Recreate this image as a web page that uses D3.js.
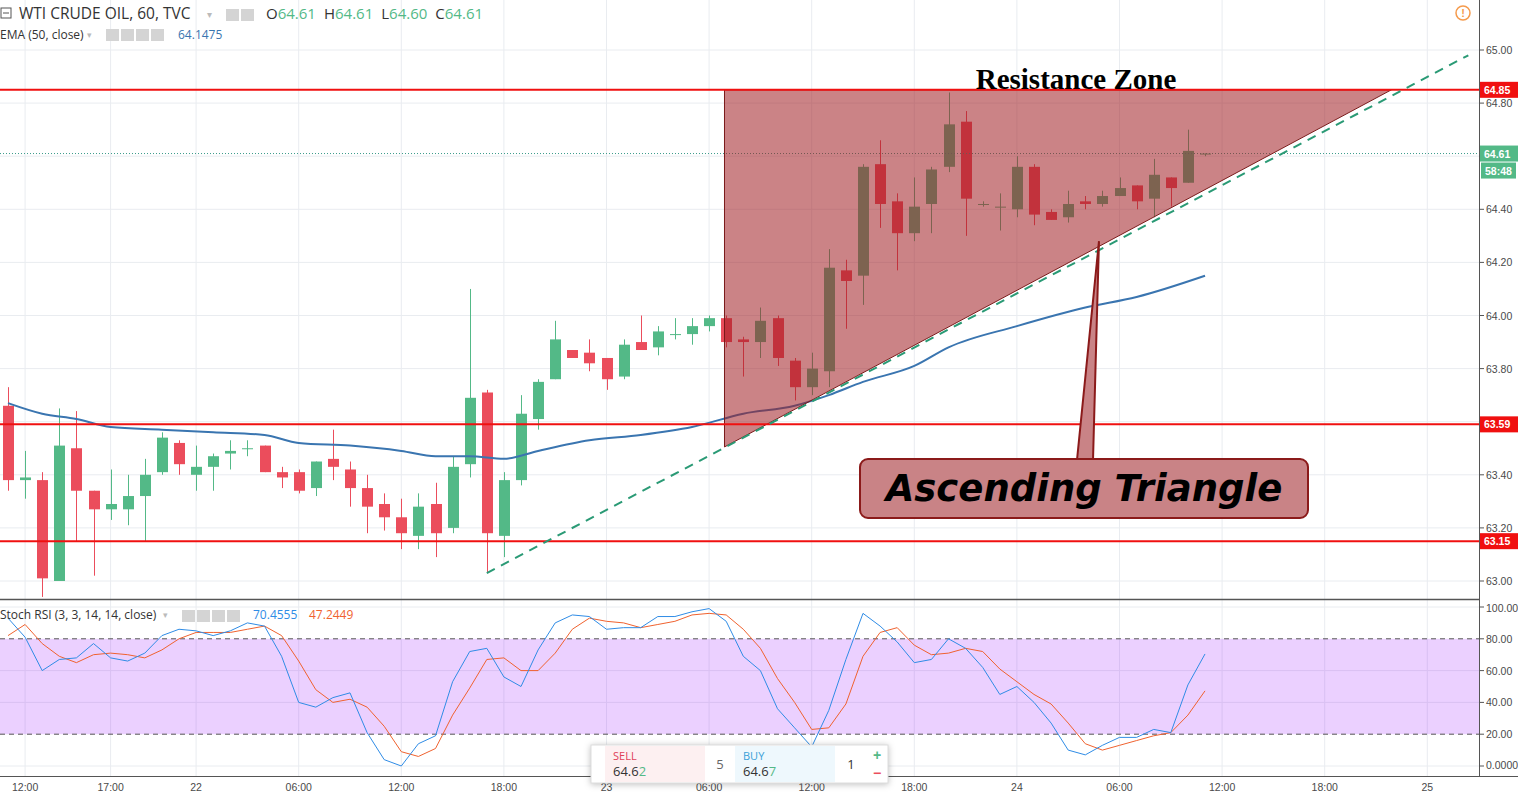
<!DOCTYPE html>
<html>
<head>
<meta charset="utf-8">
<script src="https://cdn.jsdelivr.net/npm/d3@7"></script>
<style>
  body { margin: 0; background: #fff; font-family: "Open Sans", "DejaVu Sans", sans-serif; }
  svg { display: block; }
  .grid line { stroke: #e9ecf0; stroke-width: 1; }
  .axis-label { font-size: 10.5px; fill: #4a4a4a; font-family: "Liberation Sans", sans-serif; }
</style>
</head>
<body>
<div class="chart"></div>
<script>
// Data: hourly candles (index, open, high, low, close)
const opens  = [63.66,63.38,63.38,63.00,63.50,63.34,63.27,63.27,63.32,63.41,63.52,63.40,63.43,63.48,63.50,63.51,63.41,63.41,63.35,63.46,63.42,63.35,63.29,63.24,63.17,63.29,63.20,63.44,63.71,63.17,63.38,63.61,63.76,63.87,63.86,63.84,63.77,63.90,63.88,63.93,63.93,63.96,63.99,63.91,63.90,63.99,63.83,63.73,63.79,64.17,64.15,64.57,64.43,64.31,64.42,64.56,64.73,64.42,64.41,64.40,64.56,64.39,64.37,64.43,64.42,64.45,64.49,64.44,64.52,64.50,64.61];
const highs  = [63.73,63.49,63.41,63.65,63.64,63.34,63.42,63.40,63.46,63.56,63.53,63.51,63.48,63.53,63.53,63.51,63.43,63.42,63.45,63.57,63.45,63.40,63.33,63.31,63.33,63.37,63.47,64.10,63.72,63.41,63.70,63.76,63.98,63.87,63.91,63.84,63.91,64.00,63.96,63.99,63.99,64.00,64.00,63.92,64.03,64.00,63.84,63.86,64.25,64.21,64.57,64.66,64.46,64.52,64.56,64.84,64.77,64.43,64.46,64.60,64.57,64.40,64.47,64.45,64.47,64.52,64.49,64.59,64.52,64.70,64.61];
const lows   = [63.34,63.31,62.94,63.00,63.15,63.02,63.23,63.21,63.15,63.40,63.40,63.34,63.34,63.42,63.47,63.41,63.35,63.33,63.32,63.38,63.28,63.18,63.19,63.12,63.12,63.09,63.18,63.39,63.03,63.09,63.36,63.57,63.76,63.84,63.79,63.72,63.76,63.87,63.85,63.91,63.89,63.94,63.88,63.77,63.84,63.81,63.68,63.70,63.73,63.95,64.04,64.33,64.17,64.28,64.31,64.54,64.30,64.41,64.32,64.37,64.34,64.36,64.35,64.40,64.41,64.45,64.40,64.37,64.41,64.50,64.60];
const closes = [63.38,63.39,63.01,63.51,63.34,63.27,63.29,63.32,63.40,63.54,63.44,63.43,63.47,63.49,63.50,63.41,63.39,63.34,63.45,63.43,63.35,63.28,63.24,63.18,63.28,63.18,63.43,63.69,63.18,63.38,63.63,63.75,63.91,63.84,63.82,63.76,63.89,63.87,63.94,63.93,63.96,63.99,63.90,63.90,63.98,63.84,63.73,63.80,64.18,64.13,64.56,64.42,64.31,64.41,64.55,64.72,64.44,64.42,64.41,64.56,64.38,64.36,64.42,64.42,64.45,64.48,64.43,64.53,64.48,64.62,64.61];

// EMA (50) samples at bar indices
const emaIdx = [0,2,4,6,9,12,15,17,20,23,25,27,29,31,34,37,40,43,46,48,50,53,55,59,63,66,70];
const emaVal = [63.67,63.63,63.61,63.58,63.57,63.56,63.55,63.52,63.51,63.49,63.47,63.47,63.46,63.49,63.53,63.55,63.58,63.63,63.66,63.70,63.75,63.81,63.88,63.96,64.03,64.07,64.15];

// Stoch RSI K and D per bar
const stochK = [93,81,60,67,68,77,68,66,71,82,86,85,82,85,90,88,69,40,37,43,46,21,4,0,14,19,53,72,74,56,50,73,90,95,94,86,87,87,94,94,97,99,91,69,60,36,24,12,35,67,96,88,78,65,67,80,74,62,45,50,40,27,10,7,13,18,18,23,21,51,70.46];
const stochD = [82,89,77,69,65,70,71,70,68,73,80,84,84,84,86,88,82,66,48,40,42,37,25,9,6,11,32,49,67,68,60,60,71,86,93,91,90,87,89,91,95,96,95,86,74,55,40,23,24,39,69,84,87,76,70,71,74,72,61,53,45,39,27,14,10,13,16,19,21,32,47.24];

// Levels and annotations
const levels = [64.85, 63.59, 63.15];
const priceTicks = [63.0,63.2,63.4,63.6,63.8,64.0,64.2,64.4,64.6,64.8,65.0,65.2];
const stochTicks = [100,80,60,40,20,0];
const timeIdx = [1,6,11,17,23,29,35,41,47,53,59,65,71,77,83];
const timeLabels = ['12:00','17:00','22','06:00','12:00','18:00','23','06:00','12:00','18:00','24','06:00','12:00','18:00','25'];
const triangle = [[41.9,64.85],[41.9,63.505],[80.9,64.85]];
const trendLine = [[28,63.03],[85.4,64.98]];

const W = 1518, H = 798, axisX = 1479;
const svg = d3.select('.chart').append('svg').attr('width', W).attr('height', H);

// Scales
const x = d3.scaleLinear().domain([0, 86]).range([8, 8 + 86 * 17.1]);
const y = d3.scaleLinear().domain([63, 65]).range([581, 50]);
const ys = d3.scaleLinear().domain([0, 100]).range([766, 607]);

const green = '#53b987', red = '#eb4d5c';

// Grid
const grid = svg.append('g').attr('class', 'grid');
grid.selectAll('.vg').data(timeIdx).enter().append('line')
  .attr('x1', d => x(d)).attr('x2', d => x(d)).attr('y1', 0).attr('y2', 776);
grid.selectAll('.hg').data(priceTicks).enter().append('line')
  .attr('x1', 0).attr('x2', axisX).attr('y1', d => y(d)).attr('y2', d => y(d));
grid.selectAll('.sg').data([100, 60, 40, 0]).enter().append('line')
  .attr('x1', 0).attr('x2', axisX).attr('y1', d => ys(d)).attr('y2', d => ys(d));

// Stoch band
svg.append('rect').attr('x', 0).attr('width', axisX).attr('y', ys(80)).attr('height', ys(20) - ys(80))
  .attr('fill', 'rgba(153,21,255,0.2)');
svg.selectAll('.band').data([80, 20]).enter().append('line')
  .attr('x1', 0).attr('x2', axisX).attr('y1', d => ys(d)).attr('y2', d => ys(d))
  .attr('stroke', '#555').attr('stroke-dasharray', '5,4');

const bars = opens.map((o, i) => ({i, o, h: highs[i], l: lows[i], c: closes[i]}));

// Candles
const cg = svg.append('g');
cg.selectAll('.wick').data(bars).enter().append('line')
  .attr('x1', d => Math.round(x(d.i)) + 0.5).attr('x2', d => Math.round(x(d.i)) + 0.5)
  .attr('y1', d => y(d.h)).attr('y2', d => y(d.l))
  .attr('stroke', d => d.c >= d.o ? green : red).attr('stroke-width', 1);
cg.selectAll('.body').data(bars).enter().append('rect')
  .attr('x', d => Math.round(x(d.i)) - 5).attr('width', 11)
  .attr('y', d => y(Math.max(d.o, d.c)))
  .attr('height', d => Math.max(1, Math.abs(y(d.o) - y(d.c))))
  .attr('fill', d => d.c >= d.o ? green : red);

// EMA
svg.append('path').datum(emaIdx.map((d, k) => [d, emaVal[k]]))
  .attr('d', d3.line().x(d => x(d[0])).y(d => y(d[1])).curve(d3.curveMonotoneX))
  .attr('fill', 'none').attr('stroke', '#3a75b0').attr('stroke-width', 2);

// Last price dotted line
svg.append('line').attr('x1', 0).attr('x2', axisX).attr('y1', y(64.61)).attr('y2', y(64.61))
  .attr('stroke', '#3a9a8a').attr('stroke-dasharray', '1,2');

// Triangle overlay
svg.append('path').datum(triangle)
  .attr('d', d3.line().x(d => x(d[0])).y(d => y(d[1])).curve(d3.curveLinearClosed))
  .attr('fill', 'rgba(160,30,35,0.55)').attr('stroke', '#7a1a1a').attr('stroke-width', 1);

// Horizontal levels
svg.selectAll('.lvl').data(levels).enter().append('line')
  .attr('x1', 0).attr('x2', axisX).attr('y1', d => y(d)).attr('y2', d => y(d))
  .attr('stroke', '#f01010').attr('stroke-width', 2);

// Trend line
svg.append('path').datum(trendLine)
  .attr('d', d3.line().x(d => x(d[0])).y(d => y(d[1])))
  .attr('stroke', '#2a9a75').attr('stroke-width', 2).attr('stroke-dasharray', '9,7').attr('fill', 'none');

// Callout
svg.append('path').attr('d', `M1077,460 L${x(63.8)},${y(64.28)} L1093,460 Z`)
  .attr('fill', '#c98386').attr('stroke', '#8b1a1a').attr('stroke-width', 2);
svg.append('rect').attr('x', 860).attr('y', 459).attr('width', 448).attr('height', 59).attr('rx', 8)
  .attr('fill', '#c98386').attr('stroke', '#8b1a1a').attr('stroke-width', 2);
svg.append('text').attr('x', 1084).attr('y', 501).attr('text-anchor', 'middle')
  .style('font', 'italic bold 37px "DejaVu Sans", sans-serif')
  .attr('fill', '#000').text('Ascending Triangle');
svg.append('text').attr('x', 1076).attr('y', 89).attr('text-anchor', 'middle')
  .style('font', 'bold 29px "Liberation Serif", serif').attr('fill', '#000').text('Resistance Zone');

// Stoch lines
const sline = d3.line().x((d, i) => x(i)).y(d => ys(d));
svg.append('path').datum(stochD).attr('d', sline).attr('fill', 'none').attr('stroke', '#f0622f').attr('stroke-width', 1);
svg.append('path').datum(stochK).attr('d', sline).attr('fill', 'none').attr('stroke', '#2f8ce6').attr('stroke-width', 1);

// Panel separators and axes
svg.append('rect').attr('x', axisX).attr('y', 0).attr('width', W - axisX).attr('height', H).attr('fill', '#fff');
svg.append('line').attr('x1', 0).attr('x2', axisX).attr('y1', 599.5).attr('y2', 599.5).attr('stroke', '#555').attr('stroke-width', 1.5);
svg.append('line').attr('x1', 0).attr('x2', W).attr('y1', 776.5).attr('y2', 776.5).attr('stroke', '#555');
svg.append('line').attr('x1', axisX + 0.5).attr('x2', axisX + 0.5).attr('y1', 0).attr('y2', 777).attr('stroke', '#555');

// Price tags (ticks hidden behind tags are skipped)
const tags = [
  {v: 64.85, t: '64.85', c: '#f01010'}, {v: 63.59, t: '63.59', c: '#f01010'},
  {v: 63.15, t: '63.15', c: '#f01010'}, {v: 64.61, t: '64.61', c: green}
];
const hidden = priceTicks.filter(p => tags.some(t => Math.abs(y(p) - y(t.v)) < 9));
svg.selectAll('.pt').data(priceTicks.filter(p => !hidden.includes(p) && p < 65.1)).enter().append('text').attr('class', 'axis-label')
  .attr('x', 1486).attr('y', d => y(d) + 4).text(d => d.toFixed(2));
svg.selectAll('.st').data(stochTicks).enter().append('text').attr('class', 'axis-label')
  .attr('x', 1486).attr('y', d => ys(d) + (d === 100 ? 5 : d === 0 ? 3 : 4)).text(d => d === 0 ? '0.0000' : d.toFixed(2));
svg.selectAll('.tk').data([...priceTicks.map(y), ...stochTicks.map(ys)]).enter().append('line')
  .attr('x1', axisX).attr('x2', axisX + 5).attr('y1', d => d).attr('y2', d => d).attr('stroke', '#555');
svg.selectAll('.tl').data(timeIdx).enter().append('text').attr('class', 'axis-label')
  .attr('x', d => x(d)).attr('y', 791).attr('text-anchor', 'middle').text((d, k) => timeLabels[k]);

const tg = svg.selectAll('.tag').data(tags).enter().append('g');
tg.append('rect').attr('x', axisX + 1).attr('width', W - axisX - 1).attr('y', d => y(d.v) - 8).attr('height', 16).attr('fill', d => d.c);
tg.append('text').attr('x', 1484).attr('y', d => y(d.v) + 4).attr('fill', '#fff')
  .style('font', 'bold 10.5px "Liberation Sans", sans-serif').text(d => d.t);
svg.append('rect').attr('x', 1481).attr('y', y(64.61) + 9).attr('width', 35).attr('height', 16).attr('fill', green);
svg.append('text').attr('x', 1485).attr('y', y(64.61) + 21).attr('fill', '#fff')
  .style('font', 'bold 10.5px "Liberation Sans", sans-serif').text('58:48');

// Warning icon
svg.append('circle').attr('cx', 1463).attr('cy', 13).attr('r', 7).attr('fill', 'none').attr('stroke', '#f59a4c').attr('stroke-width', 1.5);
svg.append('text').attr('x', 1463).attr('y', 17).attr('text-anchor', 'middle').attr('fill', '#f59a4c')
  .style('font', 'bold 11px sans-serif').text('!');

// Legends
function icons(g, x0, yy, n) {
  for (let k = 0; k < n; k++) {
    g.append('rect').attr('x', x0 + k * 15).attr('y', yy - 10).attr('width', 13).attr('height', 12).attr('fill', '#d4d4d4');
  }
}
const hdr = svg.append('g');
hdr.append('rect').attr('x', 1).attr('y', 8).attr('width', 10).attr('height', 10).attr('fill', 'none').attr('stroke', '#555');
hdr.append('line').attr('x1', 3).attr('x2', 9).attr('y1', 13).attr('y2', 13).attr('stroke', '#555');
hdr.append('text').attr('x', 19).attr('y', 19).style('font-size', '15.5px').attr('fill', '#333').text('WTI CRUDE OIL, 60, TVC');
hdr.append('text').attr('x', 207).attr('y', 18).style('font-size', '10px').attr('fill', '#bbb').text('▾');
icons(hdr, 226, 19, 2);
const ohlc = hdr.append('text').attr('x', 266).attr('y', 19).style('font-size', '15px');
[['O', '64.61'], ['H', '64.61'], ['L', '64.60'], ['C', '64.61']].forEach(([a, b], k) => {
  ohlc.append('tspan').attr('fill', '#333').attr('dx', k ? 8 : 0).text(a);
  ohlc.append('tspan').attr('fill', green).text(b);
});
hdr.append('text').attr('x', 0).attr('y', 39).style('font-size', '12px').attr('fill', '#333').text('EMA (50, close)');
hdr.append('text').attr('x', 87).attr('y', 38).style('font-size', '9px').attr('fill', '#bbb').text('▾');
icons(hdr, 106, 39, 4);
hdr.append('text').attr('x', 178).attr('y', 39).style('font-size', '12px').attr('fill', '#3a75b0').text('64.1475');

hdr.append('text').attr('x', 0).attr('y', 619).style('font-size', '12px').attr('fill', '#333').text('Stoch RSI (3, 3, 14, 14, close)');
hdr.append('text').attr('x', 163).attr('y', 618).style('font-size', '9px').attr('fill', '#bbb').text('▾');
icons(hdr, 182, 620, 4);
hdr.append('text').attr('x', 253).attr('y', 619).style('font-size', '12px').attr('fill', '#2f8ce6').text('70.4555');
hdr.append('text').attr('x', 309).attr('y', 619).style('font-size', '12px').attr('fill', '#f0622f').text('47.2449');

// Trade widget
const tw = svg.append('g');
tw.append('rect').attr('x', 591).attr('y', 745).attr('width', 297).attr('height', 38).attr('fill', '#fff')
  .attr('stroke', '#ddd').style('filter', 'drop-shadow(0 1px 3px rgba(0,0,0,0.25))');
tw.append('rect').attr('x', 605).attr('y', 746).attr('width', 100).attr('height', 36).attr('fill', '#fdf0f1');
tw.append('rect').attr('x', 735).attr('y', 746).attr('width', 100).attr('height', 36).attr('fill', '#eef8fd');
tw.append('text').attr('x', 613).attr('y', 760).style('font-size', '11px').attr('fill', '#e04058').text('SELL');
tw.append('text').attr('x', 743).attr('y', 760).style('font-size', '11px').attr('fill', '#3aa0d8').text('BUY');
const sp = tw.append('text').attr('x', 613).attr('y', 776).style('font-size', '13px');
sp.append('tspan').attr('fill', '#333').text('64.6'); sp.append('tspan').attr('fill', green).text('2');
const bp = tw.append('text').attr('x', 743).attr('y', 776).style('font-size', '13px');
bp.append('tspan').attr('fill', '#333').text('64.6'); bp.append('tspan').attr('fill', green).text('7');
tw.append('text').attr('x', 720).attr('y', 769).attr('text-anchor', 'middle').style('font-size', '13px').attr('fill', '#666').text('5');
tw.append('text').attr('x', 851).attr('y', 769).attr('text-anchor', 'middle').style('font-size', '13px').attr('fill', '#333').text('1');
tw.append('text').attr('x', 877).attr('y', 760).attr('text-anchor', 'middle').style('font', 'bold 14px sans-serif').attr('fill', green).text('+');
tw.append('text').attr('x', 877).attr('y', 778).attr('text-anchor', 'middle').style('font', 'bold 14px sans-serif').attr('fill', red).text('−');
</script>
</body>
</html>
